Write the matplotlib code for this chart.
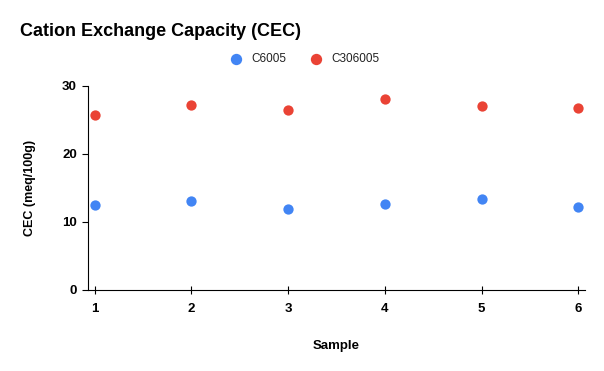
import matplotlib.pyplot as plt

plt.rcParams['font.family'] = ['Liberation Sans', 'DejaVu Sans']

samples = [1, 2, 3, 4, 5, 6]
c6005 = [12.5, 13.1, 11.9, 12.7, 13.4, 12.2]
c306005 = [25.8, 27.2, 26.5, 28.1, 27.0, 26.8]
y_ticks = [0, 10, 20, 30]

fig = plt.figure(figsize=(6.04, 3.71), dpi=100)
ax = fig.add_axes([88/604, 1 - 290/371, (585 - 88)/604, (290 - 86)/371])

ax.scatter(samples, c6005, s=55, color='#4285F4', label='C6005', zorder=3, linewidths=0)
ax.scatter(samples, c306005, s=55, color='#EA4335', label='C306005', zorder=3, linewidths=0)

ax.set_xlim(0.93, 6.07)
ax.set_ylim(0, 30)
ax.set_xticks(samples)
ax.set_yticks(y_ticks)
ax.spines['top'].set_visible(False)
ax.spines['right'].set_visible(False)
ax.tick_params(axis='x', direction='inout', length=6, width=0.8, pad=6, labelsize=9.5)
ax.tick_params(axis='y', direction='out', length=4, width=0.8, pad=4, labelsize=9.5)
for lab in ax.get_xticklabels() + ax.get_yticklabels():
    lab.set_fontweight('bold')

ax.set_xlabel('Sample', fontweight='bold', fontsize=9.5, labelpad=18)
ax.set_ylabel('CEC (meq/100g)', fontweight='bold', fontsize=9, labelpad=19)

fig.text(20/604, 1 - 31/371, 'Cation Exchange Capacity (CEC)', fontsize=13,
         fontweight='bold', va='center', ha='left')

fig.legend(loc='center', bbox_to_anchor=(302/604, 1 - 59/371), ncol=2, frameon=False,
           fontsize=8.5, handletextpad=0.3, columnspacing=1.5, markerscale=1.1,
           labelcolor='#222222')

fig.savefig('out.png', dpi=100)
